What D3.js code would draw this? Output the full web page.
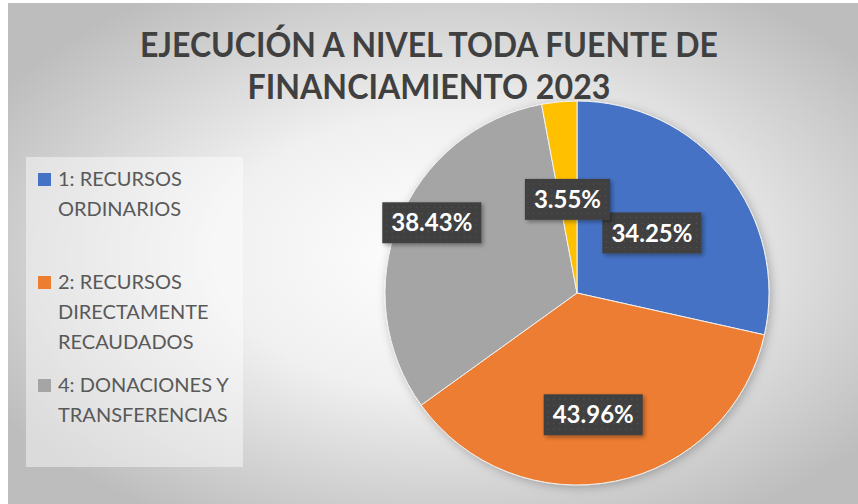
<!DOCTYPE html>
<html>
<head>
<meta charset="utf-8">
<script src="https://cdn.jsdelivr.net/npm/d3@7"></script>
<style>
  body { margin: 0; background: #fff; }
  svg { display: block; }
</style>
</head>
<body>
<script>
var titleLines = ['EJECUCIÓN A NIVEL TODA FUENTE DE', 'FINANCIAMIENTO 2023'];
var categories = ['1: RECURSOS ORDINARIOS', '2: RECURSOS DIRECTAMENTE RECAUDADOS', '4: DONACIONES Y TRANSFERENCIAS', '5: RECURSOS DETERMINADOS'];
var values = [34.25, 43.96, 38.43, 3.55];
var legendLines = [['1: RECURSOS', 'ORDINARIOS'], ['2: RECURSOS', 'DIRECTAMENTE', 'RECAUDADOS'], ['4: DONACIONES Y', 'TRANSFERENCIAS']];

var colors = ['#4472C4', '#ED7D31', '#A5A5A5', '#FFC000'];

var width = 858;
var height = 504;

var cx = 577, cy = 293, radius = 192;
// label placement (fraction of radius, angle nudge in degrees), like Excel's best fit
var labelPlace = [[0.5, 0], [0.64, 4], [0.84, 4], [0.49, -0.5]];

var svg = d3.select('body').append('svg')
    .attr('width', width)
    .attr('height', height);

var defs = svg.append('defs');

var bg = defs.append('radialGradient')
    .attr('id', 'bg')
    .attr('cx', '52%').attr('cy', '50%').attr('r', '62%');
bg.append('stop').attr('offset', '0%').attr('stop-color', '#ffffff');
bg.append('stop').attr('offset', '45%').attr('stop-color', '#f0f0f0');
bg.append('stop').attr('offset', '100%').attr('stop-color', '#bdbdbd');

var pat = defs.append('pattern')
    .attr('id', 'dots')
    .attr('width', 6).attr('height', 6)
    .attr('patternUnits', 'userSpaceOnUse');
pat.append('rect').attr('width', 6).attr('height', 6).attr('fill', '#404040');
pat.append('rect').attr('x', 2).attr('y', 2).attr('width', 1).attr('height', 1).attr('fill', '#5a5a5a');

var sh = defs.append('filter').attr('id', 'shadow')
    .attr('x', '-20%').attr('y', '-20%').attr('width', '140%').attr('height', '140%');
sh.append('feDropShadow')
    .attr('dx', 2).attr('dy', 2).attr('stdDeviation', 5)
    .attr('flood-color', '#000').attr('flood-opacity', 0.25);

var bsh = defs.append('filter').attr('id', 'boxshadow')
    .attr('x', '-20%').attr('y', '-20%').attr('width', '150%').attr('height', '160%');
bsh.append('feDropShadow')
    .attr('dx', 2).attr('dy', 2).attr('stdDeviation', 2)
    .attr('flood-color', '#000').attr('flood-opacity', 0.35);

// chart area
svg.append('rect')
    .attr('x', 8).attr('y', 3)
    .attr('width', width - 8).attr('height', height - 3)
    .attr('fill', 'url(#bg)');

// title
svg.append('g').selectAll('text')
    .data(titleLines)
    .join('text')
    .attr('x', 429)
    .attr('y', function (d, i) { return 57 + i * 42; })
    .attr('text-anchor', 'middle')
    .attr('textLength', function (d, i) { return i === 0 ? 578 : 363; })
    .attr('lengthAdjust', 'spacingAndGlyphs')
    .style('font-family', 'Lato, "Open Sans", sans-serif')
    .style('font-weight', 'bold')
    .style('font-size', '35px')
    .style('fill', '#404040')
    .text(function (d) { return d; });

// legend
svg.append('rect')
    .attr('x', 26).attr('y', 157)
    .attr('width', 217).attr('height', 310)
    .attr('fill', '#ffffff').attr('fill-opacity', 0.45);

var legend = svg.append('g').selectAll('g')
    .data(legendLines)
    .join('g')
    .attr('transform', function (d, i) { return 'translate(38,' + (186 + i * 103) + ')'; });

legend.append('rect')
    .attr('x', 0).attr('y', -13)
    .attr('width', 13).attr('height', 13)
    .attr('fill', function (d, i) { return colors[i]; });

legend.append('text')
    .style('font-family', 'Lato, "Open Sans", sans-serif')
    .style('font-size', '20px')
    .style('fill', '#595959')
    .selectAll('tspan')
    .data(function (d) { return d; })
    .join('tspan')
    .attr('x', 20)
    .attr('y', function (d, i) { return i * 30; })
    .text(function (d) { return d; });

// pie
var pie = d3.pie().sort(null).value(function (d) { return d; });
var arcs = pie(values);
var arc = d3.arc().innerRadius(0).outerRadius(radius);

var g = svg.append('g')
    .attr('transform', 'translate(' + cx + ',' + cy + ')');

g.append('g')
    .attr('filter', 'url(#shadow)')
    .selectAll('path')
    .data(arcs)
    .join('path')
    .attr('d', arc)
    .attr('fill', function (d, i) { return colors[i]; })
    .attr('stroke', '#f2f2f2')
    .attr('stroke-width', 1);

// data labels
var labels = g.append('g').selectAll('g')
    .data(arcs)
    .join('g')
    .attr('transform', function (d, i) {
        var a = (d.startAngle + d.endAngle) / 2 + labelPlace[i][1] * Math.PI / 180;
        var r = labelPlace[i][0] * radius;
        return 'translate(' + (r * Math.sin(a)) + ',' + (-r * Math.cos(a)) + ')';
    });

labels.append('text')
    .attr('class', 'lbl')
    .attr('text-anchor', 'middle')
    .attr('dy', '0.36em')
    .style('font-family', 'Lato, "Open Sans", sans-serif')
    .style('font-weight', 'bold')
    .style('font-size', '24px')
    .style('fill', '#ffffff')
    .text(function (d) { return d.data.toFixed(2) + '%'; });

labels.each(function () {
    var grp = d3.select(this);
    var bb = grp.select('text').node().getBBox();
    grp.insert('rect', 'text')
        .attr('x', bb.x - 9)
        .attr('y', -20.5)
        .attr('width', bb.width + 18)
        .attr('height', 41)
        .attr('fill', 'url(#dots)')
        .attr('filter', 'url(#boxshadow)');
});
</script>
</body>
</html>
